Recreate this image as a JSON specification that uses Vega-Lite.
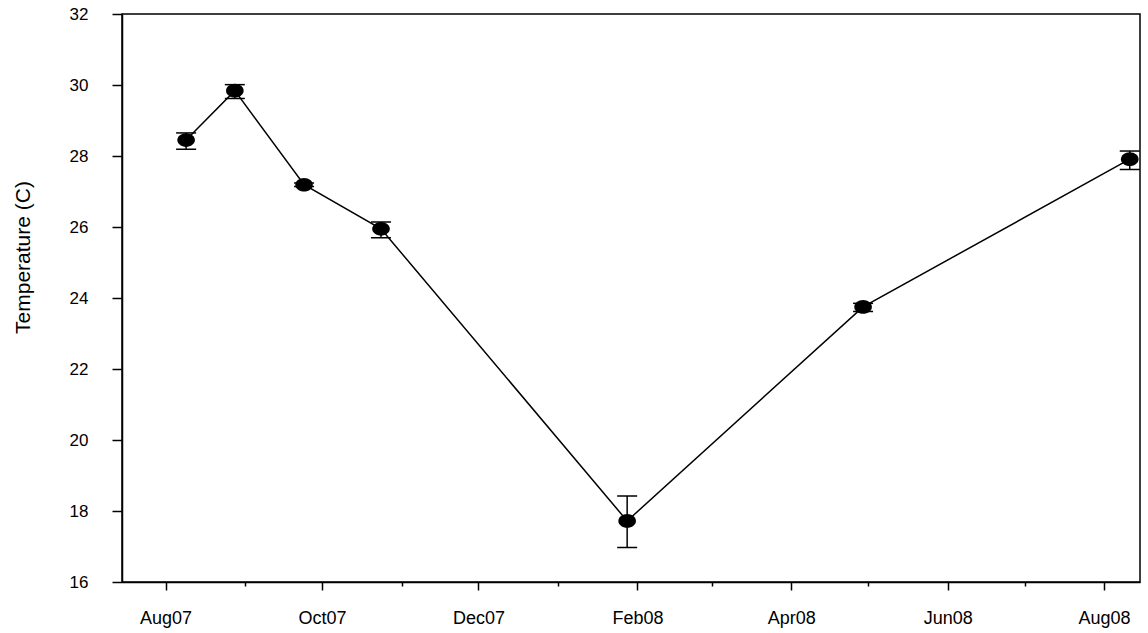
{
  "$schema": "https://vega.github.io/schema/vega-lite/v6.json",
  "width": 1018,
  "height": 568,
  "autosize": "none",
  "padding": {"left": 122, "top": 14, "right": 8, "bottom": 51},
  "background": "white",
  "config": {
    "view": {"stroke": "black", "strokeWidth": 1.5},
    "font": "Liberation Sans"
  },
  "data": {
    "values": [
      {"date": "2007-08-09", "temp": 28.45, "lo": 28.19, "hi": 28.65},
      {"date": "2007-08-28", "temp": 29.84, "lo": 29.62, "hi": 30.01},
      {"date": "2007-09-24", "temp": 27.19, "lo": 27.14, "hi": 27.24},
      {"date": "2007-10-24", "temp": 25.95, "lo": 25.70, "hi": 26.14},
      {"date": "2008-01-28", "temp": 17.72, "lo": 16.97, "hi": 18.42},
      {"date": "2008-04-29", "temp": 23.75, "lo": 23.62, "hi": 23.85},
      {"date": "2008-08-11", "temp": 27.91, "lo": 27.62, "hi": 28.14}
    ]
  },
  "encoding": {
    "x": {
      "field": "date",
      "type": "temporal",
      "scale": {
        "type": "utc",
        "nice": false,
        "domain": [
          {"year": 2007, "month": 7, "date": 15, "utc": true},
          {"year": 2008, "month": 8, "date": 15, "utc": true}
        ]
      },
      "axis": {
        "title": null,
        "grid": false,
        "values": [
          {"year": 2007, "month": 8, "date": 1, "utc": true},
          {"year": 2007, "month": 9, "date": 1, "utc": true},
          {"year": 2007, "month": 10, "date": 1, "utc": true},
          {"year": 2007, "month": 11, "date": 1, "utc": true},
          {"year": 2007, "month": 12, "date": 1, "utc": true},
          {"year": 2008, "month": 1, "date": 1, "utc": true},
          {"year": 2008, "month": 2, "date": 1, "utc": true},
          {"year": 2008, "month": 3, "date": 1, "utc": true},
          {"year": 2008, "month": 4, "date": 1, "utc": true},
          {"year": 2008, "month": 5, "date": 1, "utc": true},
          {"year": 2008, "month": 6, "date": 1, "utc": true},
          {"year": 2008, "month": 7, "date": 1, "utc": true},
          {"year": 2008, "month": 8, "date": 1, "utc": true}
        ],
        "tickSize": {"condition": {"test": "utcmonth(datum.value) % 2 == 1", "value": 8}, "value": 4},
        "tickWidth": 1.5,
        "tickColor": "black",
        "domainColor": "black",
        "domainWidth": 1.5,
        "labelExpr": "utcmonth(datum.value) % 2 == 1 ? utcFormat(datum.value, '%b%y') : ''",
        "labelFontSize": 18,
        "labelColor": "black",
        "labelBaseline": "alphabetic",
        "labelPadding": 33,
        "labelFlush": false,
        "labelOverlap": false
      }
    }
  },
  "layer": [
    {
      "mark": {"type": "line", "color": "black", "strokeWidth": 1.5},
      "encoding": {
        "y": {
          "field": "temp", "type": "quantitative", "title": "Temperature (C)",
          "scale": {"domain": [16, 32], "nice": false, "zero": false},
          "axis": {
            "values": [16, 18, 20, 22, 24, 26, 28, 30, 32],
            "grid": false,
            "tickSize": 10, "tickWidth": 1.5, "tickColor": "black",
            "domainColor": "black", "domainWidth": 1.5,
            "labelFontSize": 17, "labelColor": "black", "labelPadding": 24,
            "titleFontSize": 21, "titleFontWeight": "normal", "titleColor": "black",
            "titleX": -99, "titleY": 243, "titleBaseline": "middle"
          }
        }
      }
    },
    {
      "mark": {"type": "rule", "color": "black", "strokeWidth": 1.5},
      "encoding": {
        "y": {
          "field": "lo", "type": "quantitative", "title": "Temperature (C)",
          "scale": {"domain": [16, 32], "nice": false, "zero": false}
        },
        "y2": {"field": "hi"}
      }
    },
    {
      "mark": {"type": "tick", "orient": "horizontal", "size": 20, "thickness": 1.5, "color": "black", "opacity": 1},
      "encoding": {
        "y": {
          "field": "lo", "type": "quantitative", "title": "Temperature (C)",
          "scale": {"domain": [16, 32], "nice": false, "zero": false}
        }
      }
    },
    {
      "mark": {"type": "tick", "orient": "horizontal", "size": 20, "thickness": 1.5, "color": "black", "opacity": 1},
      "encoding": {
        "y": {
          "field": "hi", "type": "quantitative", "title": "Temperature (C)",
          "scale": {"domain": [16, 32], "nice": false, "zero": false}
        }
      }
    },
    {
      "mark": {
        "type": "point",
        "filled": true,
        "shape": "M-1,0A1,0.78,0,1,0,1,0A1,0.78,0,1,0,-1,0Z",
        "size": 310,
        "color": "black",
        "opacity": 1,
        "strokeWidth": 0
      },
      "encoding": {
        "y": {
          "field": "temp", "type": "quantitative", "title": "Temperature (C)",
          "scale": {"domain": [16, 32], "nice": false, "zero": false}
        }
      }
    }
  ]
}
